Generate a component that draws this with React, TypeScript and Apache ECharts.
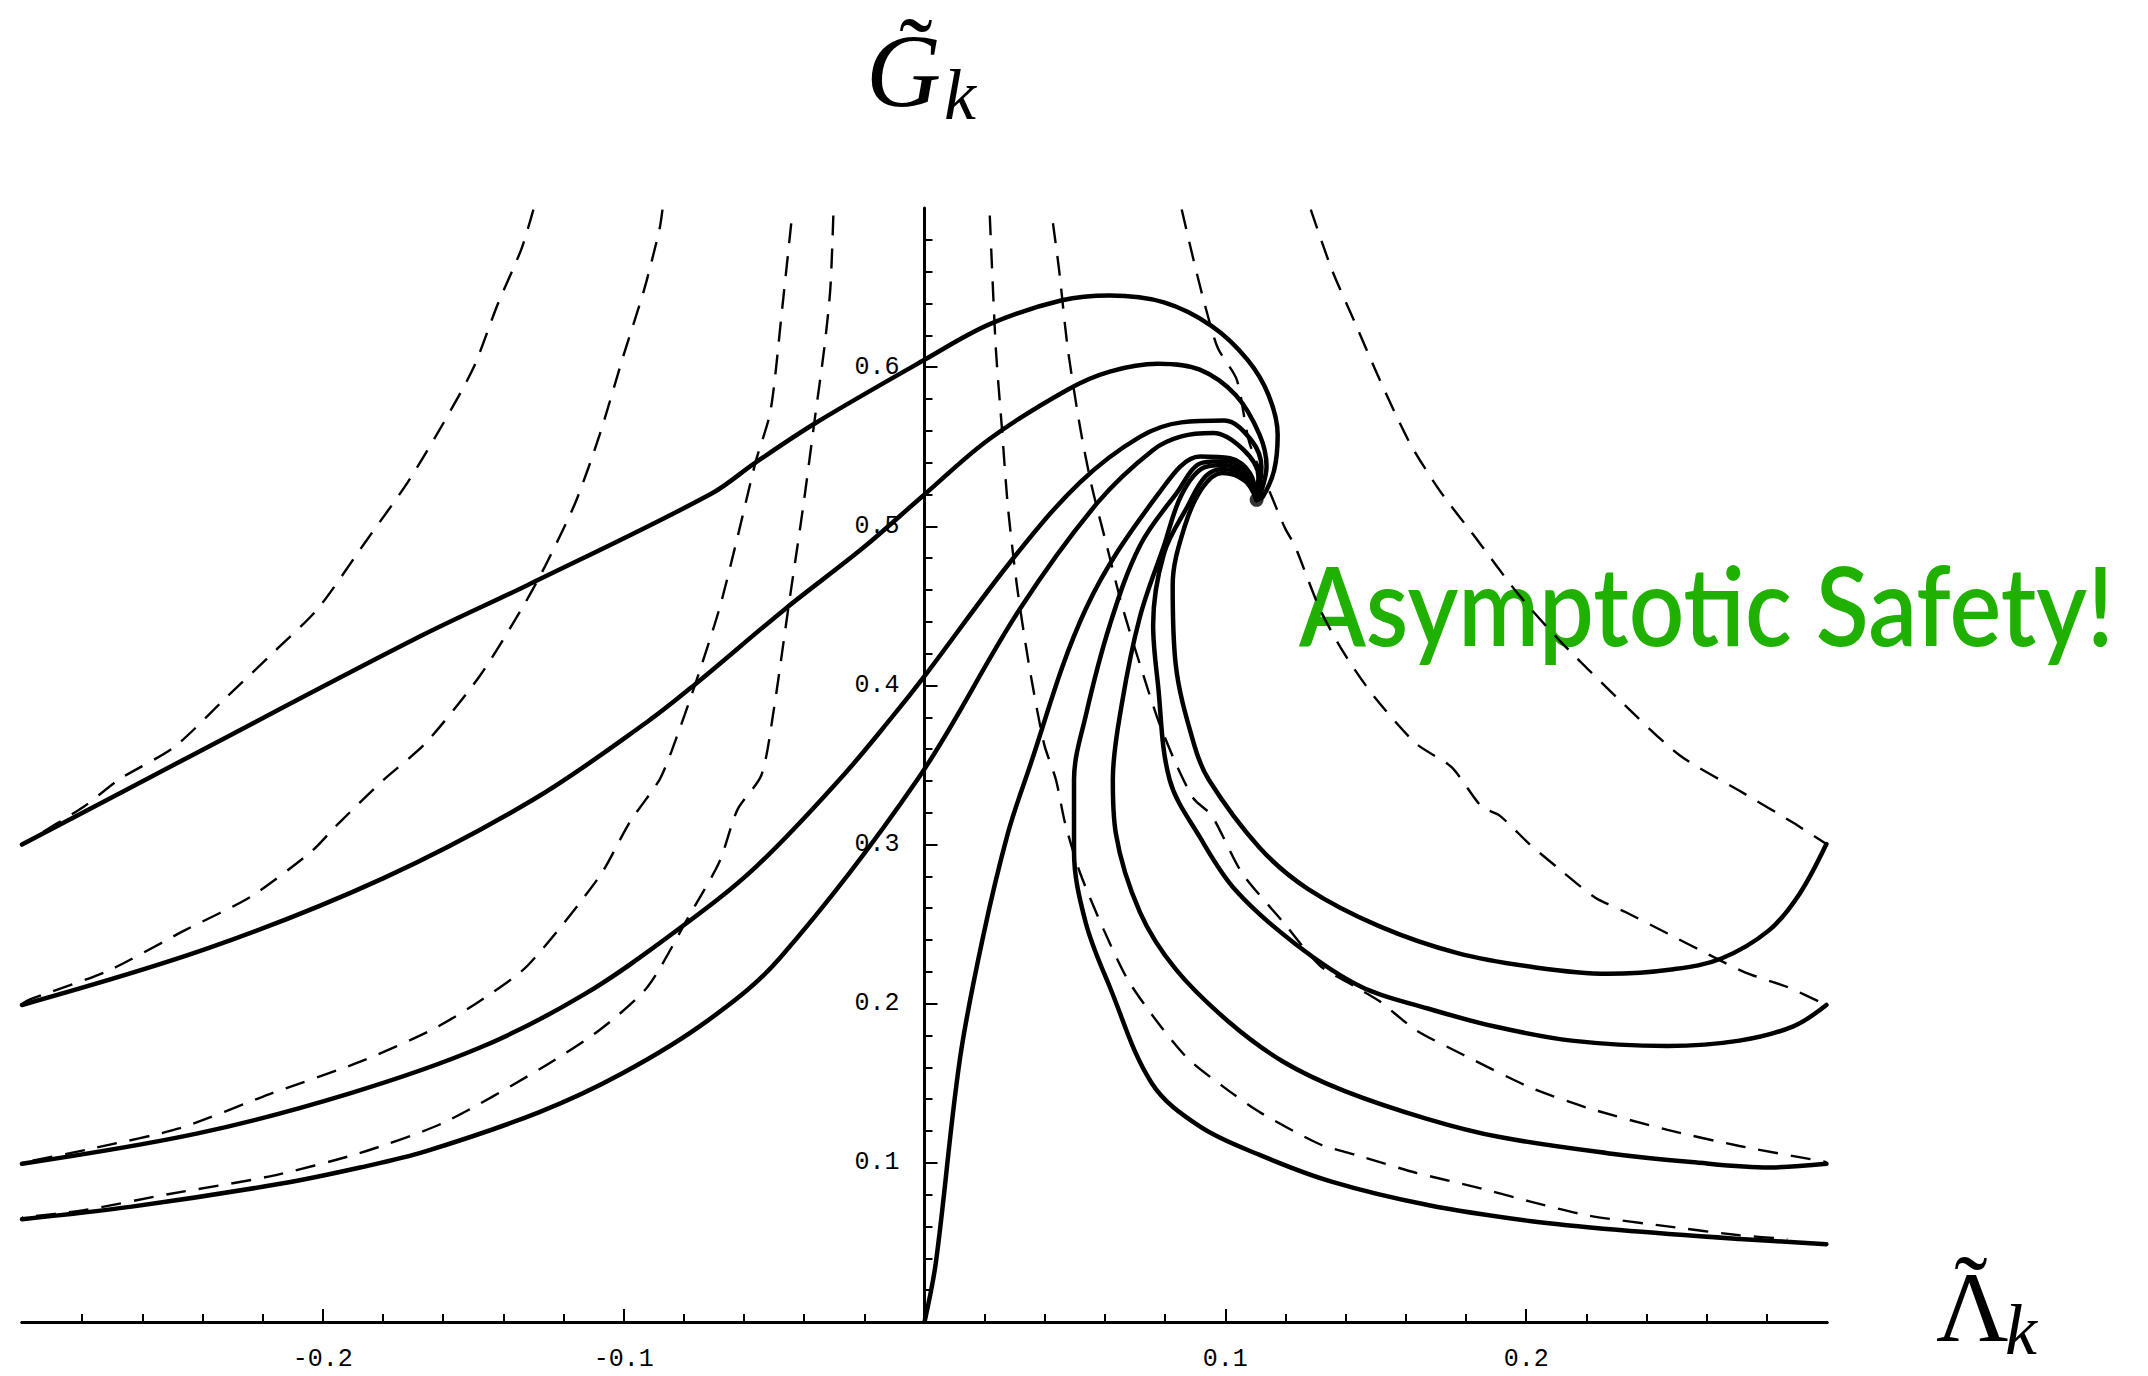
import React, { useEffect, useRef } from 'react';
import * as echarts from 'echarts';

// ---- axis ranges and ticks ----
const X_MIN = -0.3;
const X_MAX = 0.3;
const Y_MIN = 0;
const Y_MAX = 0.7;
const xMajorTicks = [-0.2, -0.1, 0.1, 0.2];
const xMinorTicks = [-0.28, -0.26, -0.24, -0.22, -0.18, -0.16, -0.14, -0.12, -0.08, -0.06, -0.04, -0.02,
  0.02, 0.04, 0.06, 0.08, 0.12, 0.14, 0.16, 0.18, 0.22, 0.24, 0.26, 0.28];
const yMajorTicks = [0.1, 0.2, 0.3, 0.4, 0.5, 0.6];

// ---- fixed point ----
const fixedPoint = [[0.1104, 0.5166]];

// ---- solid trajectories (flowing into the fixed point) ----
const uvA = [[-0.3, 0.3], [-0.2476, 0.352], [-0.1678, 0.4307], [-0.132, 0.463], [-0.0712, 0.5201],
  [-0.0562, 0.54], [-0.0362, 0.5649], [0.0, 0.6046], [0.0217, 0.627], [0.0457, 0.642], [0.0616, 0.645],
  [0.0796, 0.6407], [0.0955, 0.6258], [0.1074, 0.6046], [0.1144, 0.5823], [0.1174, 0.5574],
  [0.1162, 0.535], [0.1125, 0.5187], [0.1104, 0.5166]];
const uvB = [[-0.3, 0.1992], [-0.2376, 0.2352], [-0.1798, 0.2789], [-0.13, 0.3283], [-0.0921, 0.3772],
  [-0.0762, 0.4008], [-0.0463, 0.4481], [-0.0203, 0.4866], [0.0, 0.52], [0.0217, 0.555], [0.0477, 0.586],
  [0.0616, 0.5972], [0.0776, 0.6021], [0.0915, 0.5984], [0.1035, 0.5823], [0.1114, 0.5574],
  [0.1137, 0.5375], [0.1118, 0.521], [0.1104, 0.5166]];
const uvC = [[-0.3, 0.0994], [-0.2416, 0.1185], [-0.1918, 0.1432], [-0.1479, 0.1723], [-0.113, 0.206],
  [-0.0821, 0.2464], [-0.0562, 0.2857], [-0.0283, 0.3407], [-0.0104, 0.381], [0.0, 0.4058],
  [0.0297, 0.4804], [0.0517, 0.5276], [0.0716, 0.5562], [0.0854, 0.5653], [0.0997, 0.5664],
  [0.1087, 0.5539], [0.112, 0.5371], [0.1104, 0.5166]];
const uvD = [[-0.3, 0.0646], [-0.2635, 0.0725], [-0.2137, 0.087], [-0.1876, 0.0971], [-0.1659, 0.1072],
  [-0.128, 0.1319], [-0.1001, 0.1566], [-0.0722, 0.1892], [-0.0482, 0.2284], [-0.0024, 0.3407],
  [0.0317, 0.448], [0.0576, 0.515], [0.0760, 0.5480], [0.0854, 0.5565], [0.096, 0.5586],
  [0.106, 0.5481], [0.111, 0.5313], [0.1104, 0.5166]];
const uvE = [[0.0, 0.0], [0.0038, 0.0377], [0.0118, 0.1656], [0.0197, 0.2441], [0.0277, 0.307],
  [0.0335, 0.3407], [0.0536, 0.448], [0.0776, 0.52], [0.0916, 0.5439], [0.1016, 0.5428],
  [0.1082, 0.5334], [0.1104, 0.5166]];

// ---- solid trajectories (leaving the fixed point to the right) ----
const irA = [[0.1104, 0.5166], [0.1066, 0.5285], [0.0990, 0.5335], [0.0925, 0.5245], [0.0865, 0.5],
  [0.0825, 0.463], [0.0835, 0.4133], [0.0895, 0.3636], [0.0945, 0.3407], [0.1114, 0.298],
  [0.1274, 0.2722], [0.1513, 0.2486], [0.1772, 0.2318], [0.2031, 0.2228], [0.227, 0.2188],
  [0.249, 0.2217], [0.2649, 0.2284], [0.2809, 0.2464], [0.2908, 0.2688], [0.2998, 0.3003]];
const irB = [[0.1104, 0.5166], [0.1069, 0.5295], [0.0995, 0.5360], [0.0935, 0.5315], [0.0875, 0.5127],
  [0.0796, 0.4829], [0.076, 0.438], [0.0776, 0.4008], [0.0815, 0.3407], [0.0915, 0.3048],
  [0.1035, 0.2711], [0.1234, 0.2374], [0.1453, 0.2105], [0.1673, 0.197], [0.1892, 0.1858],
  [0.2151, 0.1768], [0.247, 0.1735], [0.2709, 0.1768], [0.2888, 0.1858], [0.2998, 0.1992]];
const irC = [[0.1104, 0.5166], [0.1072, 0.5305], [0.1000, 0.5385], [0.0930, 0.5370], [0.0855, 0.5200],
  [0.0796, 0.4878], [0.0716, 0.443], [0.0656, 0.3884], [0.0626, 0.3407], [0.0636, 0.307],
  [0.0716, 0.2576], [0.0835, 0.2217], [0.1015, 0.188], [0.1194, 0.1634], [0.1393, 0.1454],
  [0.1673, 0.1275], [0.1912, 0.1162], [0.227, 0.1061], [0.2549, 0.1005], [0.2809, 0.0971],
  [0.2998, 0.0994]];
const irD = [[0.1104, 0.5166], [0.1076, 0.5318], [0.1008, 0.5408], [0.0925, 0.5400], [0.0835, 0.52],
  [0.0716, 0.4878], [0.0616, 0.438], [0.0536, 0.381], [0.0497, 0.3407], [0.0497, 0.2958],
  [0.0536, 0.2509], [0.0616, 0.2105], [0.0756, 0.1499], [0.0915, 0.1229], [0.1114, 0.105],
  [0.1353, 0.0882], [0.1673, 0.0735], [0.2011, 0.0635], [0.231, 0.0578], [0.2709, 0.0522],
  [0.2998, 0.0489]];

// ---- dashed trajectories ----
const dashA = [[-0.13, 0.699], [-0.134, 0.6742], [-0.1419, 0.6394], [-0.1499, 0.5997], [-0.1599, 0.5649],
  [-0.1718, 0.5276], [-0.1858, 0.4903], [-0.2017, 0.4481], [-0.2157, 0.422], [-0.2316, 0.3934],
  [-0.2495, 0.3611], [-0.2675, 0.3412], [-0.2795, 0.3238], [-0.3, 0.3]];
const dashB = [[-0.0871, 0.699], [-0.0881, 0.6866], [-0.0931, 0.6493], [-0.1001, 0.6071], [-0.108, 0.5574],
  [-0.116, 0.5151], [-0.126, 0.4754], [-0.1339, 0.4481], [-0.1479, 0.4058], [-0.1659, 0.3636],
  [-0.1798, 0.3407], [-0.1957, 0.3115], [-0.2037, 0.2958], [-0.2236, 0.2677], [-0.2456, 0.2464],
  [-0.2715, 0.2206], [-0.2975, 0.2026], [-0.3, 0.2]];
const dashC = [[-0.0443, 0.6904], [-0.0473, 0.637], [-0.0512, 0.5723], [-0.0562, 0.54], [-0.0622, 0.4928],
  [-0.0682, 0.4481], [-0.0762, 0.4008], [-0.0841, 0.3586], [-0.0881, 0.3407], [-0.0981, 0.3137],
  [-0.108, 0.2801], [-0.1319, 0.224], [-0.1479, 0.2015], [-0.1639, 0.1835], [-0.1878, 0.1634],
  [-0.2177, 0.1432], [-0.2475, 0.1218], [-0.2755, 0.1095], [-0.3, 0.1]];
const dashD = [[-0.0303, 0.6953], [-0.0313, 0.6493], [-0.0333, 0.6121], [-0.0363, 0.5698], [-0.0403, 0.5127],
  [-0.0453, 0.4481], [-0.0502, 0.3835], [-0.0542, 0.3437], [-0.0622, 0.3218], [-0.0682, 0.289],
  [-0.0782, 0.2554], [-0.0921, 0.2105], [-0.108, 0.1835], [-0.128, 0.1588], [-0.1599, 0.1252],
  [-0.1878, 0.1061], [-0.2177, 0.0915], [-0.2515, 0.0803], [-0.2795, 0.0702], [-0.3, 0.0657]];
const dashE = [[0.0217, 0.6953], [0.0237, 0.612], [0.0257, 0.5624], [0.0277, 0.5127], [0.0307, 0.463],
  [0.0347, 0.4133], [0.0397, 0.3636], [0.0437, 0.3407], [0.0467, 0.3137], [0.0517, 0.2823],
  [0.0596, 0.2464], [0.0676, 0.215], [0.0776, 0.188], [0.0875, 0.1656], [0.0995, 0.1476],
  [0.1114, 0.1319], [0.1314, 0.1117], [0.1433, 0.105], [0.1633, 0.0938], [0.1832, 0.0848],
  [0.2011, 0.0758], [0.221, 0.0668], [0.247, 0.0601], [0.2709, 0.0545], [0.2868, 0.0522]];
const dashF = [[0.0427, 0.6904], [0.0447, 0.6618], [0.0476, 0.612], [0.0517, 0.5624], [0.0556, 0.5251],
  [0.0606, 0.4878], [0.0656, 0.4505], [0.0716, 0.4133], [0.0776, 0.3785], [0.0835, 0.3512],
  [0.0895, 0.3288], [0.0955, 0.3182], [0.1055, 0.2823], [0.1194, 0.2509], [0.1314, 0.224],
  [0.1433, 0.2105], [0.1513, 0.2015], [0.1633, 0.1835], [0.1792, 0.1678], [0.2011, 0.1476],
  [0.221, 0.1342], [0.247, 0.1207], [0.2709, 0.1106], [0.2998, 0.1005]];
const dashG = [[0.0855, 0.699], [0.0895, 0.6668], [0.0935, 0.637], [0.0975, 0.612], [0.1038, 0.5921],
  [0.108, 0.5525], [0.1154, 0.5187], [0.1198, 0.499], [0.1232, 0.4873], [0.1314, 0.4481],
  [0.1393, 0.4207], [0.1493, 0.3934], [0.1633, 0.3636], [0.1752, 0.3486], [0.1852, 0.3238],
  [0.1912, 0.3182], [0.2011, 0.3003], [0.2111, 0.2845], [0.223, 0.2666], [0.233, 0.2576],
  [0.247, 0.2441], [0.2609, 0.2307], [0.2729, 0.2195], [0.2868, 0.2105], [0.2998, 0.1992]];
const dashH = [[0.1284, 0.699], [0.1353, 0.6618], [0.1433, 0.627], [0.1513, 0.5922], [0.1613, 0.5524],
  [0.1712, 0.5226], [0.1832, 0.4928], [0.1971, 0.458], [0.2111, 0.4282], [0.231, 0.3909],
  [0.251, 0.3561], [0.2709, 0.3338], [0.2888, 0.3137], [0.2998, 0.3003]];

const solidCurves = [uvA, uvB, uvC, uvD, uvE, irA, irB, irC, irD];
const dashedCurves = [dashA, dashB, dashC, dashD, dashE, dashF, dashG, dashH];

const TICK_FONT = '"Liberation Mono", "DejaVu Sans Mono", monospace';
const MATH_FONT = '"Liberation Serif", "DejaVu Serif", serif';

// layout of the plotting area (pixels)
const GRID_LEFT = 22;
const GRID_RIGHT = 321;
const CANVAS_W = 2148;

export default function App() {
  const ref = useRef<HTMLDivElement>(null);

  useEffect(() => {
    if (!ref.current) return;
    const chart = echarts.init(ref.current, null, { renderer: 'svg' });

    const solidSeries = solidCurves.map((d, i) => ({
      type: 'line',
      name: 'solid' + i,
      data: d,
      xAxisIndex: 0,
      yAxisIndex: 0,
      showSymbol: false,
      symbol: 'none',
      smooth: 0.35,
      silent: true,
      z: 4,
      lineStyle: { color: '#000', width: 4.5, type: 'solid', cap: 'round', join: 'round' },
    }));
    const dashedSeries = dashedCurves.map((d, i) => ({
      type: 'line',
      name: 'dashed' + i,
      data: d,
      xAxisIndex: 0,
      yAxisIndex: 0,
      showSymbol: false,
      symbol: 'none',
      smooth: 0.25,
      silent: true,
      z: 3,
      lineStyle: { color: '#000', width: 2.4, type: [20, 13] },
    }));

    const tickLine = { color: '#000', width: 2 };
    const axisLineStyle = { color: '#000', width: 3 };

    // the vertical axis sits where x = 0
    const gridWidth = CANVAS_W - GRID_LEFT - GRID_RIGHT;
    const yAxisOffset = -gridWidth * (0 - X_MIN) / (X_MAX - X_MIN);

    const mathText = (x: number, y: number, text: string, font: string, align: string, lineHeight?: number) => ({
      type: 'text', x, y, z: 10,
      style: {
        text, font, fill: '#000',
        align, verticalAlign: 'middle', textAlign: align, textVerticalAlign: 'middle',
        ...(lineHeight ? { lineHeight } : {}),
      },
    });

    chart.setOption({
      animation: false,
      backgroundColor: '#fff',
      grid: {
        left: GRID_LEFT, right: GRID_RIGHT, top: 208, bottom: 54,
        containLabel: false,
        outerBoundsMode: 'none',
      },
      xAxis: [
        {
          type: 'value', min: X_MIN, max: X_MAX, interval: 0.02, position: 'bottom',
          axisLine: { show: true, onZero: false, lineStyle: axisLineStyle },
          axisTick: { show: true, inside: true, length: 8, lineStyle: tickLine, customValues: xMinorTicks },
          axisLabel: { show: false },
          splitLine: { show: false },
        },
        {
          type: 'value', min: X_MIN, max: X_MAX, interval: 0.1, position: 'bottom',
          axisLine: { show: true, onZero: false, lineStyle: axisLineStyle },
          axisTick: { show: true, inside: true, length: 13, lineStyle: tickLine, customValues: xMajorTicks },
          axisLabel: {
            show: true, customValues: xMajorTicks, margin: 25,
            fontFamily: TICK_FONT, fontSize: 25, color: '#000',
          },
          splitLine: { show: false },
        },
      ],
      yAxis: {
        type: 'value', min: Y_MIN, max: Y_MAX, interval: 0.1, position: 'left',
        offset: yAxisOffset,
        axisLine: { show: true, onZero: false, lineStyle: axisLineStyle },
        axisTick: { show: true, inside: true, length: 13, lineStyle: tickLine, customValues: yMajorTicks },
        minorTick: { show: true, splitNumber: 5, length: 8, lineStyle: tickLine },
        axisLabel: {
          show: true, customValues: yMajorTicks, margin: 25,
          fontFamily: TICK_FONT, fontSize: 25, color: '#000',
        },
        splitLine: { show: false },
        minorSplitLine: { show: false },
      },
      series: [
        ...dashedSeries,
        ...solidSeries,
        {
          type: 'scatter',
          data: fixedPoint,
          symbol: 'circle',
          symbolSize: 14,
          silent: true,
          z: 5,
          itemStyle: { color: '#000' },
        },
      ],
      graphic: [
        {
          type: 'text', x: 1299, y: 604, scaleX: 0.893, z: 1,
          style: {
            text: 'Asympt\u200Cotic Safety!', font: '600 109px Lato', fill: '#1fb000',
            align: 'left', verticalAlign: 'middle', textAlign: 'left', textVerticalAlign: 'middle',
          },
        },
        mathText(866, 70, 'G', 'italic 104px ' + MATH_FONT, 'left'),
        mathText(916, 52, '\u02DC', '100px ' + MATH_FONT, 'center', 36),
        mathText(944, 95, 'k', 'italic 72px ' + MATH_FONT, 'left'),
        mathText(1936, 1307, '\u039B', '100px ' + MATH_FONT, 'left'),
        mathText(1971, 1290, '\u02DC', '100px ' + MATH_FONT, 'center', 36),
        mathText(2005, 1330, 'k', 'italic 72px ' + MATH_FONT, 'left'),
      ],
    });

    return () => {
      chart.dispose();
    };
  }, []);

  return (
    <div
      ref={ref}
      style={{ position: 'fixed', left: 0, top: 0, width: CANVAS_W, height: 1376, background: '#fff' }}
    />
  );
}
